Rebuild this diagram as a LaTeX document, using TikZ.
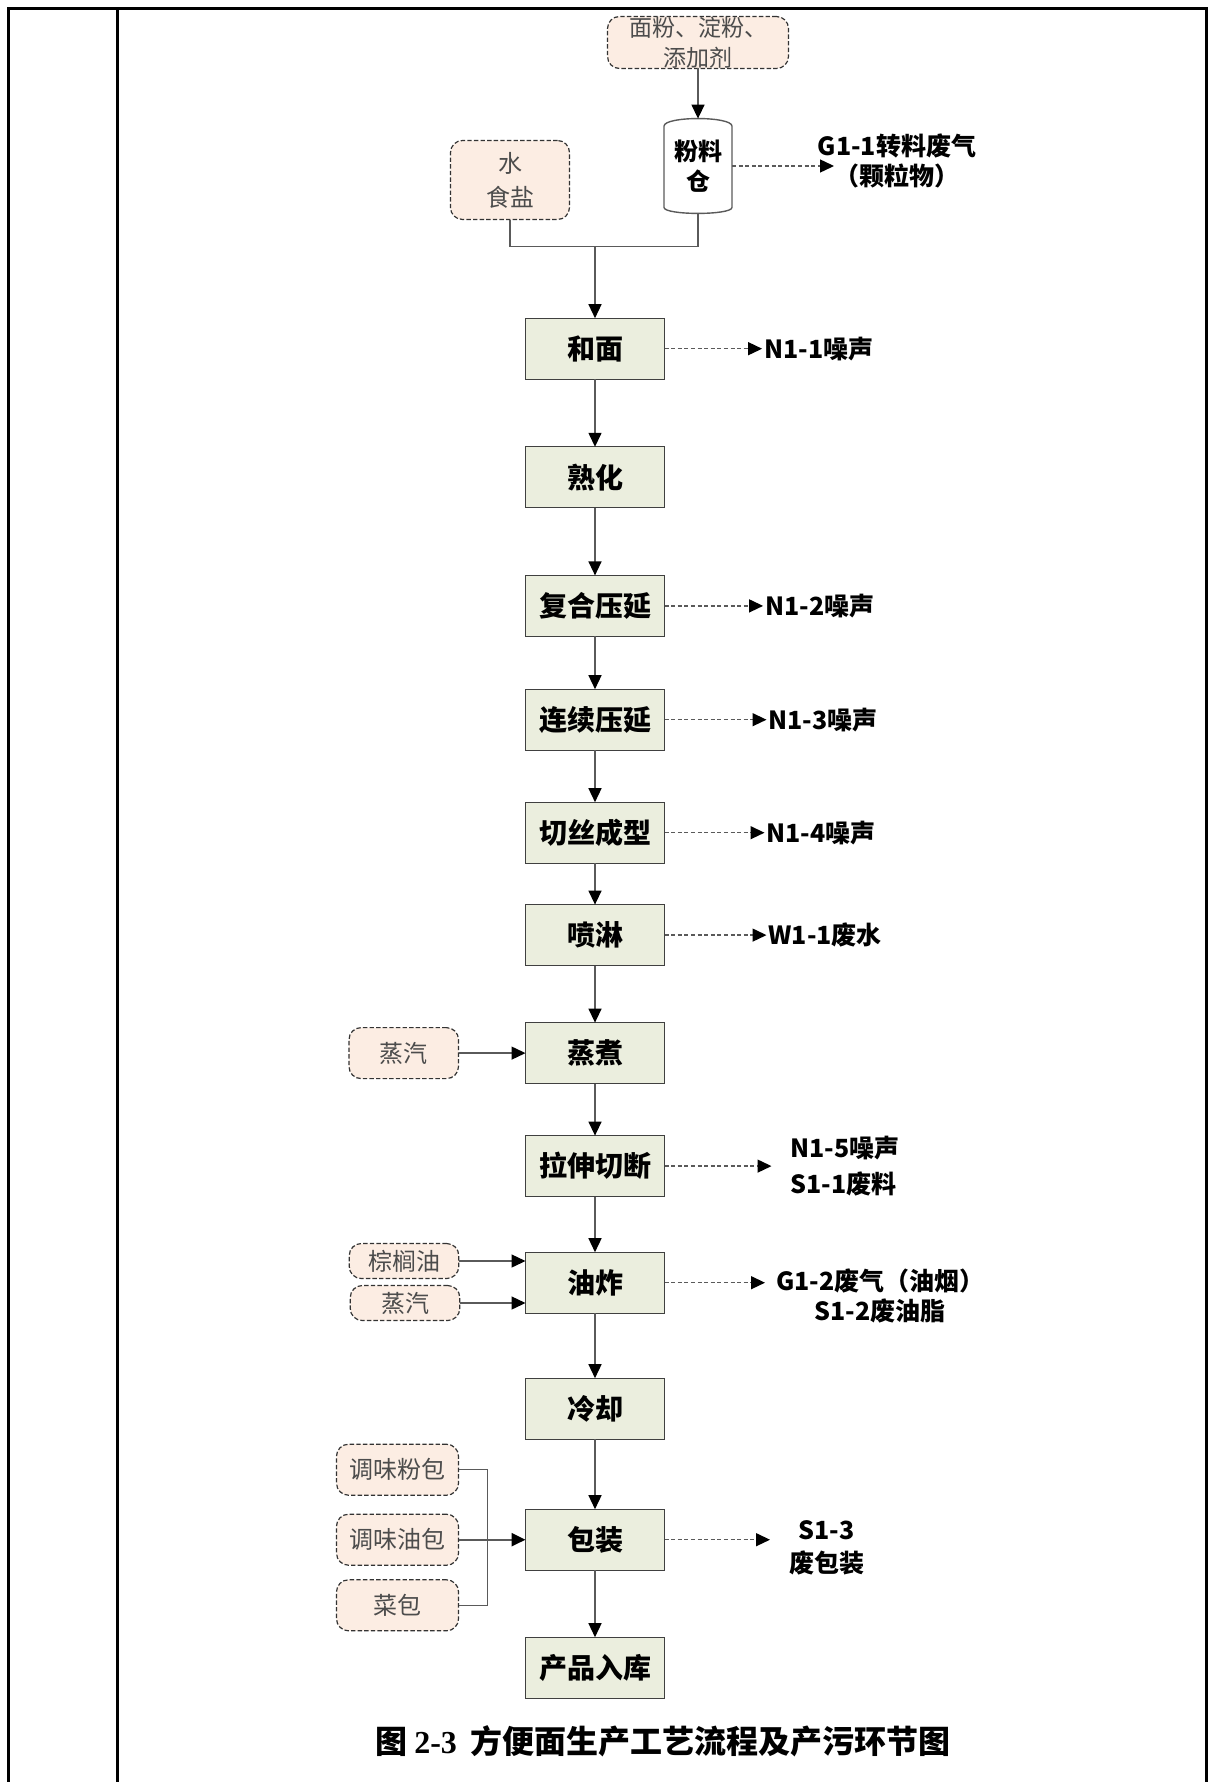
\documentclass[tikz,border=0pt]{standalone}
\usepackage{fontspec}
\setmainfont{Noto Sans CJK SC}
\newfontfamily\numfont{Liberation Serif}
\usetikzlibrary{arrows.meta, positioning}

\definecolor{stepfill}{HTML}{EBEEDE}
\definecolor{feedfill}{HTML}{FCEDE3}
\definecolor{linegray}{HTML}{5A5A5A}

\begin{document}
\begin{tikzpicture}[
  x=0.5pt, y=-0.5pt,
  stepbox/.style={draw=black!75, line width=0.6pt, fill=stepfill, minimum width=69.5pt, minimum height=30.5pt, inner sep=0pt, outer sep=0pt, font=\fontsize{14}{16}\selectfont\bfseries},
  feedbox/.style={draw=black!80, dash pattern=on 2.2pt off 1.1pt, line width=0.6pt, rounded corners=6pt, fill=feedfill, text=black!70, minimum width=54.75pt, inner sep=0pt, outer sep=0pt, font=\fontsize{12}{17}\selectfont},
  outlabel/.style={inner sep=1pt, outer sep=0pt, font=\fontsize{12.5}{15}\selectfont\bfseries},
  frame/.style={line width=1.5pt},
  link/.style={draw=linegray, line width=0.7pt},
  arrow/.style={link, -{Triangle[length=7pt, width=6.5pt, color=black]}},
  emit/.style={arrow, dash pattern=on 2pt off 1.3pt}
]
\useasboundingbox (0,0) rectangle (1208,1782);

\draw[frame] (8.3,1782) |- (1206.5,8.3) -- (1206.5,1782);
\draw[frame] (117,8.3) -- (117,1782);

% raw materials and silo
\node (flour) [feedbox, minimum width=90.5pt, minimum height=26pt, align=center, font=\fontsize{11.5}{15}\selectfont] at (698,42.5) {面粉、淀粉、\\添加剂};
\node (water) [feedbox, minimum width=59.5pt, minimum height=39.5pt, align=center] at (510,180) {水\\食盐};
\node (silo) [minimum width=34pt, minimum height=47.4pt, inner sep=0pt, outer sep=0pt, align=center, font=\fontsize{12}{15}\selectfont\bfseries] at (698,166) {粉料\\仓};
\draw[link, fill=none] ([yshift=-3.8pt]silo.north west) .. controls ([yshift=1.3pt]silo.north west) and ([yshift=1.3pt]silo.north east) .. ([yshift=-3.8pt]silo.north east)
  -- ([yshift=3pt]silo.south east) .. controls ([yshift=-1pt]silo.south east) and ([yshift=-1pt]silo.south west) .. ([yshift=3pt]silo.south west) -- cycle;
\node (g11) [outlabel, align=center, font=\fontsize{12.5}{15}\selectfont\bfseries] at (897,161) {G1-1转料废气\\（颗粒物）};
\coordinate (g11in) at (834,166);

% main process line
\node (hemian) [stepbox] at (595,348.7) {和面};
\node (shuhua) [stepbox, below=33.8pt of hemian] {熟化};
\node (fuhe) [stepbox, below=33.8pt of shuhua] {复合压延};
\node (lianxu) [stepbox, below=26.4pt of fuhe] {连续压延};
\node (qiesi) [stepbox, below=26pt of lianxu] {切丝成型};
\node (penlin) [stepbox, below=20.7pt of qiesi] {喷淋};
\node (zhengzhu) [stepbox, below=28.5pt of penlin] {蒸煮};
\node (lashen) [stepbox, below=26pt of zhengzhu] {拉伸切断};
\node (youzha) [stepbox, below=27.8pt of lashen] {油炸};
\node (lengque) [stepbox, below=32.5pt of youzha] {冷却};
\node (baozhuang) [stepbox, below=35pt of lengque] {包装};
\node (ruku) [stepbox, below=33.5pt of baozhuang] {产品入库};
\coordinate (join) at ([yshift=36pt]hemian.north);

% inputs on the left
\node (steam1) [feedbox, minimum height=25.5pt, left=33.5pt of zhengzhu] {蒸汽};
\node (palm) [feedbox, minimum height=17.5pt] at (404,1261) {棕榈油};
\node (steam2) [feedbox, minimum height=17.5pt] at (405,1303) {蒸汽};
\node (youbao) [feedbox, minimum width=61pt, minimum height=25.5pt, left=33.5pt of baozhuang] {调味油包};
\node (fenbao) [feedbox, minimum width=61pt, minimum height=25.5pt, above=9.5pt of youbao] {调味粉包};
\node (caibao) [feedbox, minimum width=61pt, minimum height=25.5pt, below=7.3pt of youbao] {菜包};
\coordinate (merge) at ([xshift=14.5pt]youbao.east);

% emissions on the right
\node (n11) [outlabel, right=48.8pt of hemian] {N1-1噪声};
\node (n12) [outlabel, right=49.3pt of fuhe] {N1-2噪声};
\node (n13) [outlabel, right=51pt of lianxu] {N1-3噪声};
\node (n14) [outlabel, right=50pt of qiesi] {N1-4噪声};
\node (w11) [outlabel, right=51pt of penlin] {W1-1废水};
\node (n15) [outlabel, right=53.5pt of lashen, inner xsep=9.5pt, align=left, font=\fontsize{12.5}{18.3}\selectfont\bfseries] {N1-5噪声\\S1-1废料};
\node (g12) [outlabel, anchor=west, inner xsep=5.5pt, align=center] at (765,1296) {G1-2废气（油烟）\\S1-2废油脂};
\node (s13) [outlabel, anchor=west, inner xsep=9.5pt, align=center, font=\fontsize{12.5}{16.5}\selectfont\bfseries] at (770,1548) {S1-3\\废包装};

\node (caption) [font=\fontsize{16}{18}\selectfont\bfseries] at (663,1741) {图 {\numfont 2-3}\hspace{7pt}方便面生产工艺流程及产污环节图};

\draw[arrow] (flour) -- (silo);
\draw[link] (water) |- (join);
\draw[link] (silo) |- (join);
\draw[arrow] (join) -- (hemian);
\draw[emit] (silo) -- (g11in);

\draw[arrow] (hemian) -- (shuhua);
\draw[arrow] (shuhua) -- (fuhe);
\draw[arrow] (fuhe) -- (lianxu);
\draw[arrow] (lianxu) -- (qiesi);
\draw[arrow] (qiesi) -- (penlin);
\draw[arrow] (penlin) -- (zhengzhu);
\draw[arrow] (zhengzhu) -- (lashen);
\draw[arrow] (lashen) -- (youzha);
\draw[arrow] (youzha) -- (lengque);
\draw[arrow] (lengque) -- (baozhuang);
\draw[arrow] (baozhuang) -- (ruku);

\draw[arrow] (steam1) -- (zhengzhu);
\draw[arrow] (palm) -- (palm -| youzha.west);
\draw[arrow] (steam2) -- (steam2 -| youzha.west);
\draw[link] (fenbao) -| (merge) |- (caibao);
\draw[arrow, line width=1.2pt] (youbao) -- (baozhuang);

\draw[emit] (hemian) -- (n11);
\draw[emit] (fuhe) -- (n12);
\draw[emit] (lianxu) -- (n13);
\draw[emit] (qiesi) -- (n14);
\draw[emit] (penlin) -- (w11);
\draw[emit] (lashen) -- (n15);
\draw[emit] (youzha.east) -- (youzha.east -| g12.west);
\draw[emit] (baozhuang.east) -- (baozhuang.east -| s13.west);

\end{tikzpicture}
\end{document}
